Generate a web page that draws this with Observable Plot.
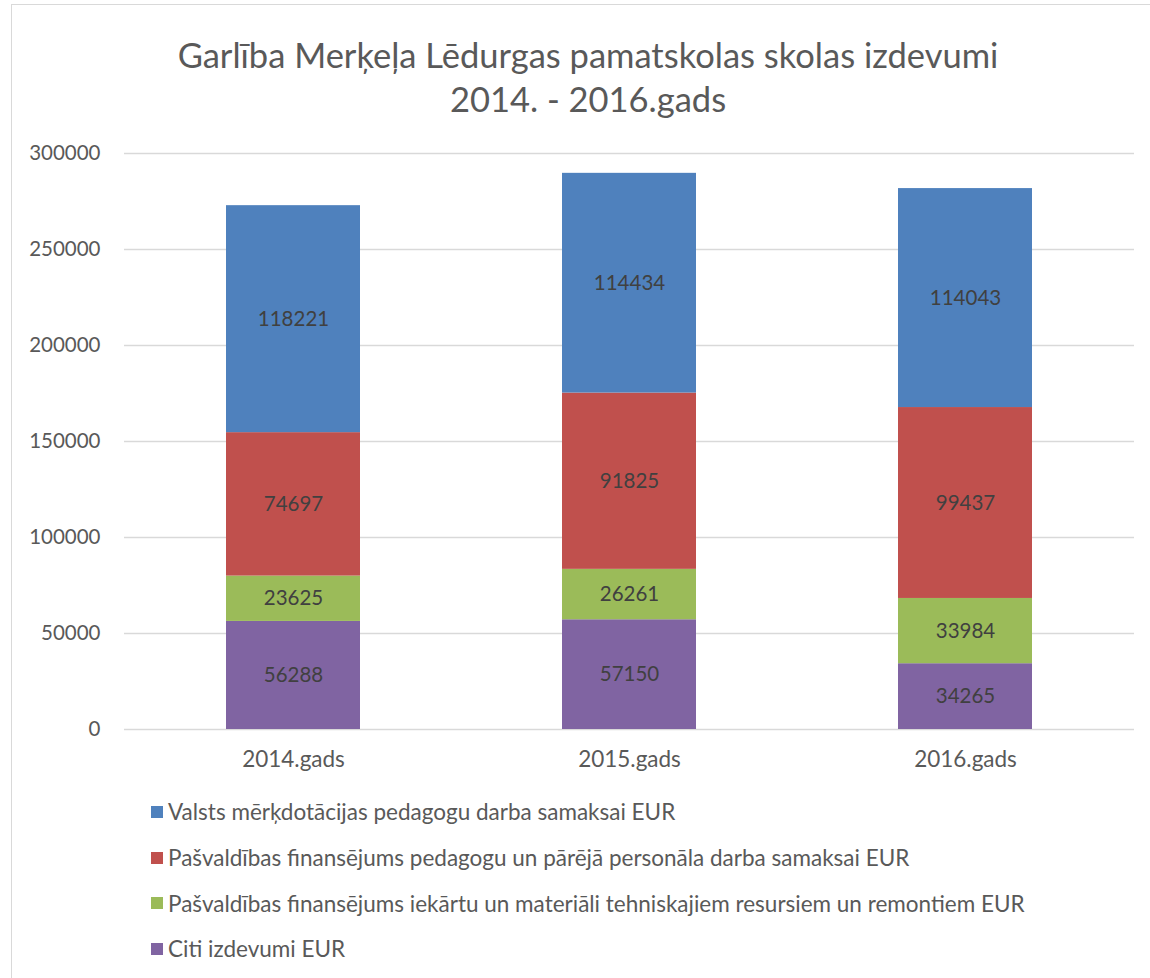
<!DOCTYPE html>
<html><head><meta charset="utf-8">
<script src="https://cdn.jsdelivr.net/npm/d3@7"></script>
<script src="https://cdn.jsdelivr.net/npm/@observablehq/plot@0.6"></script>
<style>
body{margin:0;background:#fff;font-family:Lato,"Open Sans",sans-serif;}
#frame{position:absolute;left:11px;top:4px;width:1160px;height:1000px;border:1.5px solid #d9d9d9;box-sizing:border-box;}
#title{position:absolute;left:0;top:33px;width:1176px;text-align:center;color:#595959;font-size:34.5px;line-height:44px;}
#chart{position:absolute;left:0;top:130px;}
#legend{position:absolute;left:151px;top:789px;color:#595959;font-size:22.5px;}
.li{height:45.7px;display:flex;align-items:center;}
.sw{width:12px;height:12px;margin-right:5px;}
</style></head><body>
<div id="frame"></div>
<div id="title">Garlība Merķeļa Lēdurgas pamatskolas skolas izdevumi<br>2014. - 2016.gads</div>
<div id="chart"></div>
<div id="legend"></div>
<script>
const years = ["2014.gads","2015.gads","2016.gads"];
const series = [
  "Citi izdevumi EUR",
  "Pašvaldības finansējums iekārtu un materiāli tehniskajiem resursiem un remontiem EUR",
  "Pašvaldības finansējums pedagogu un pārējā personāla darba samaksai EUR",
  "Valsts mērķdotācijas pedagogu darba samaksai EUR"
];
const colors = ["#8064A2","#9BBB59","#C0504D","#4F81BD"];
const citi = [56288, 57150, 34265];
const iekartas = [23625, 26261, 33984];
const personals = [74697, 91825, 99437];
const valsts = [118221, 114434, 114043];
const yTicks = [0,50000,100000,150000,200000,250000,300000];

const values = [citi, iekartas, personals, valsts];
const data = [];
years.forEach((y,i)=>{ series.forEach((s,j)=>{ data.push({year:y, series:s, value:values[j][i]}); }); });

const chart = Plot.plot({
  width: 1150, height: 660,
  marginLeft: 124, marginRight: 16, marginTop: 23, marginBottom: 61,
  style: {fontFamily: "Lato, 'Open Sans', sans-serif", fontSize: "20.5px", color: "#595959", background: "transparent"},
  x: {domain: years, paddingInner: 0.6, paddingOuter: 0.3, label: null, tickSize: 0, tickPadding: 22},
  y: {domain: [0, 300000], ticks: yTicks, tickFormat: d => String(d), label: null, tickSize: 0, tickPadding: 24},
  color: {domain: series, range: colors},
  marks: [
    Plot.gridY(yTicks, {stroke: "#d9d9d9", strokeOpacity: 1, strokeWidth: 1.5}),
    Plot.axisX({tickSize: 0, tickPadding: 22, fontSize: 22.5, label: null}),
    Plot.axisY({ticks: yTicks, tickFormat: d => String(d), tickSize: 0, tickPadding: 24, fontSize: 20.5, label: null}),
    Plot.barY(data, {x: "year", y: "value", fill: "series", order: series}),
    Plot.text(data, Plot.stackY({x: "year", y: "value", z: "series", order: series, text: d => String(d.value), fill: "#404040", fontSize: 20.5}))
  ]
});
document.getElementById("chart").appendChild(chart);

const leg = document.getElementById("legend");
for (let j = series.length - 1; j >= 0; j--) {
  const row = document.createElement("div"); row.className = "li";
  const sw = document.createElement("div"); sw.className = "sw"; sw.style.background = colors[j];
  const t = document.createElement("span"); t.textContent = series[j];
  row.appendChild(sw); row.appendChild(t); leg.appendChild(row);
}
</script>
</body></html>
